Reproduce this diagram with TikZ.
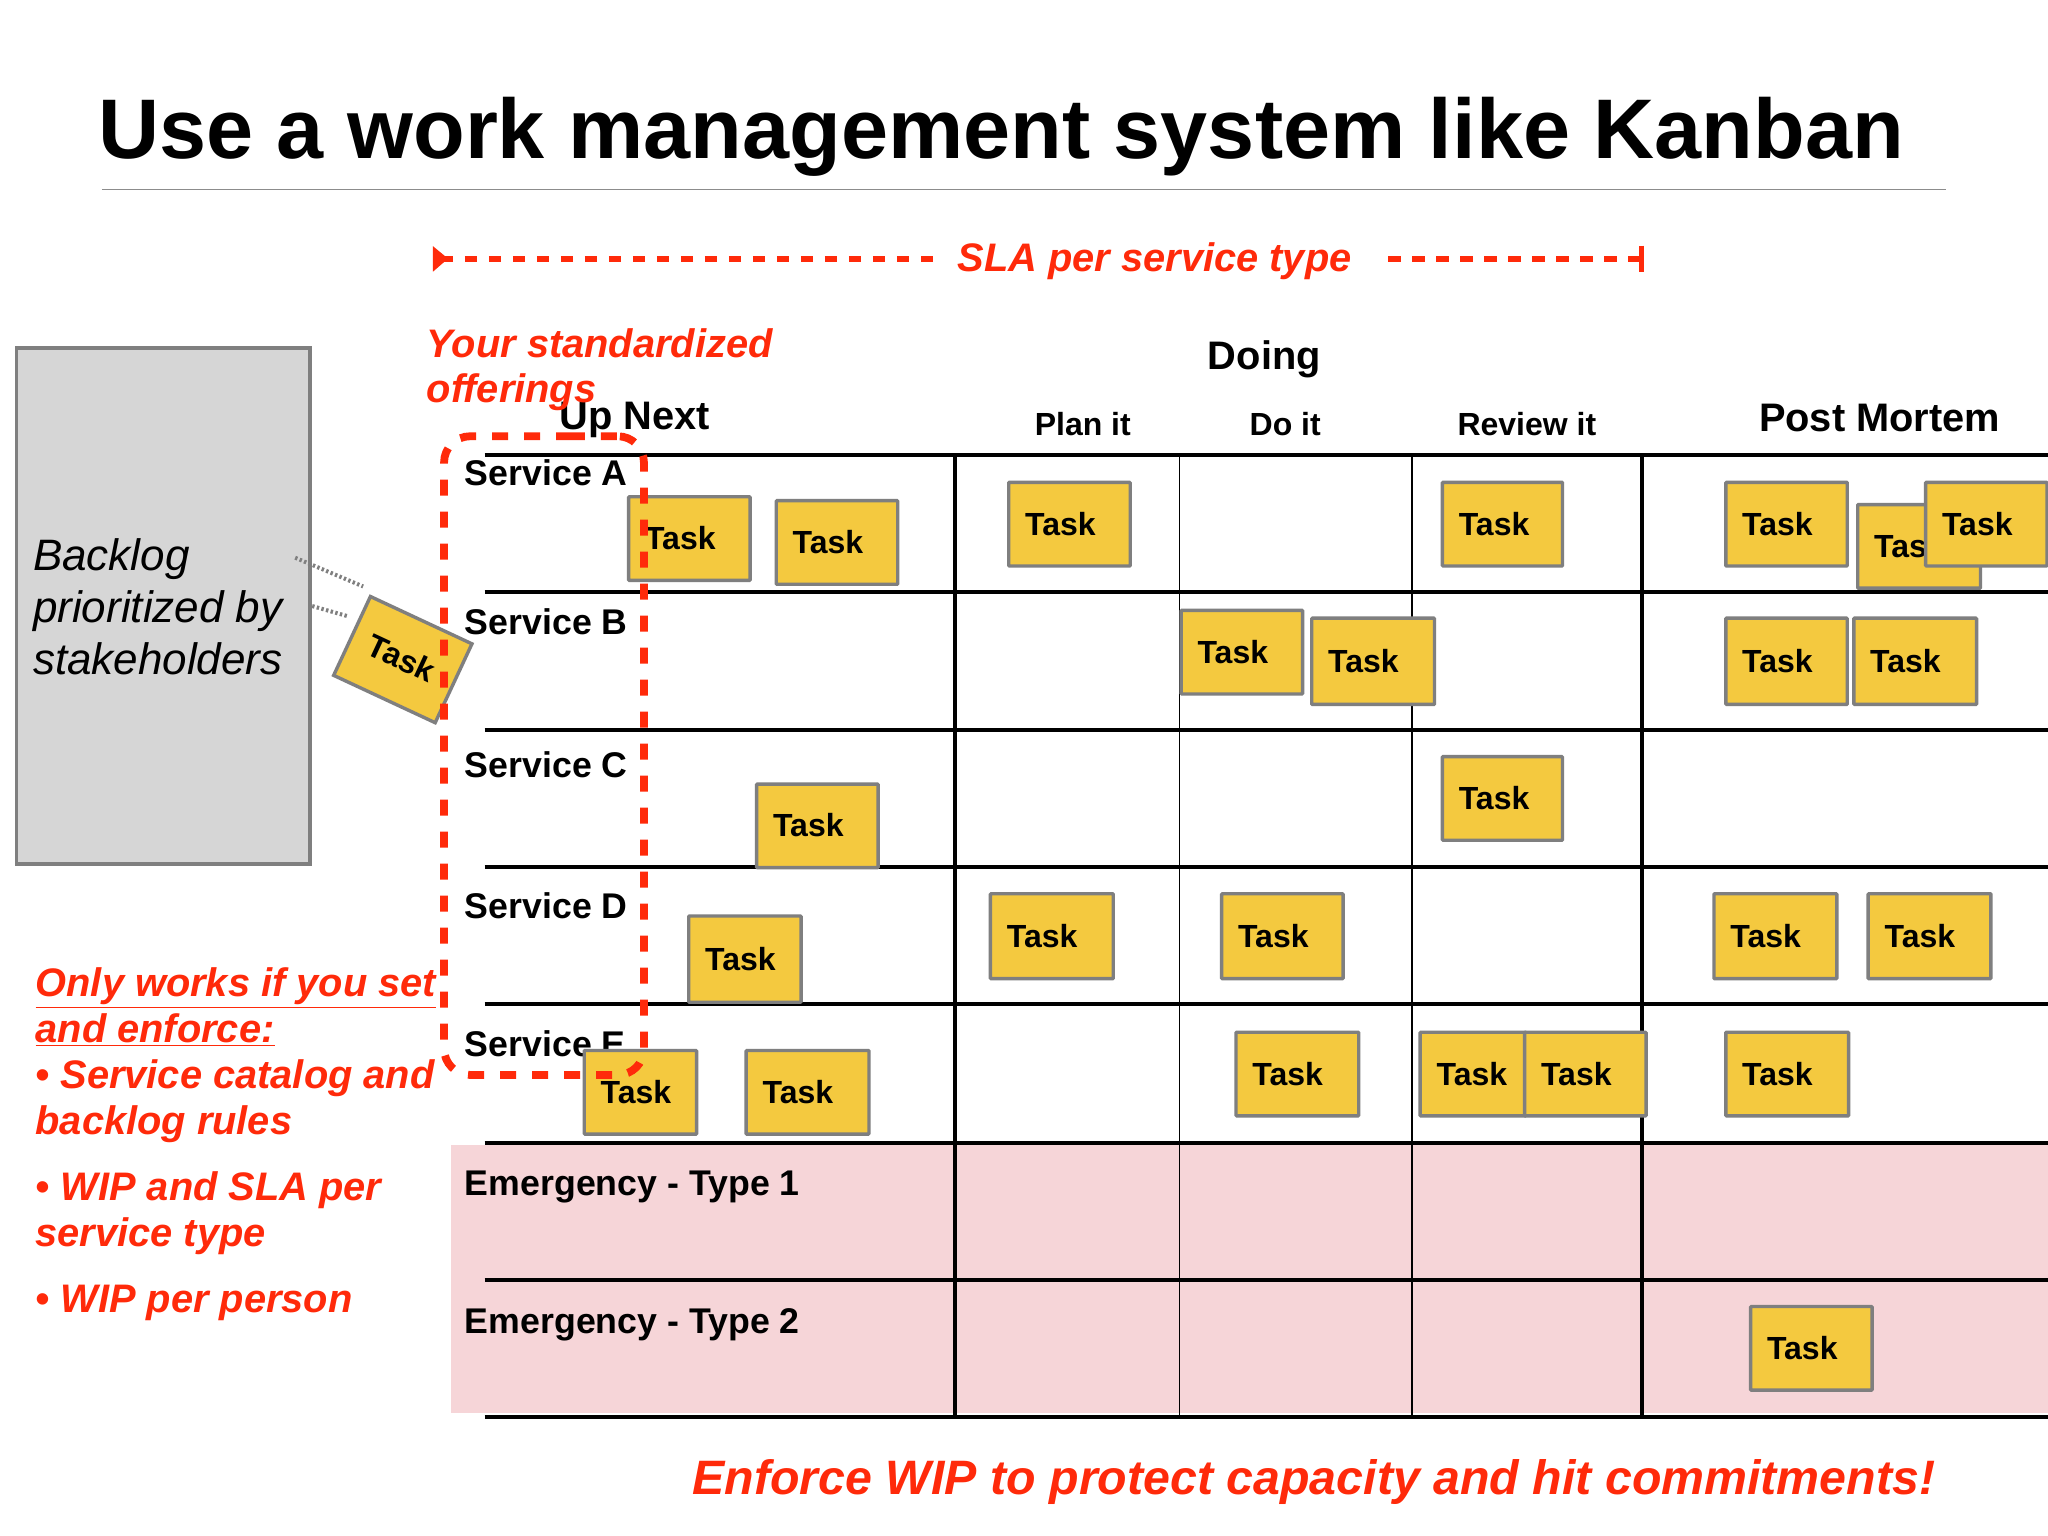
\documentclass[tikz,border=0pt]{standalone}
\usepackage{fontspec}
\setmainfont{Liberation Sans}
\usetikzlibrary{arrows.meta}
\definecolor{redc}{HTML}{FF2A0A}
\definecolor{yel}{HTML}{F4C93F}
\definecolor{bord}{HTML}{7F7F7F}
\definecolor{pinkc}{HTML}{F6D5D8}
\definecolor{boxg}{HTML}{D6D6D6}
\definecolor{rulec}{HTML}{8C8C8C}
\tikzset{
  taskbox/.style={draw=bord,fill=yel,line width=1.7pt,anchor=north west,inner xsep=8.2pt,inner ysep=0pt,align=left,font=\bfseries\fontsize{16}{18}\selectfont,rounded corners=0.4pt},
  hdr/.style={anchor=base,inner sep=0,font=\bfseries\fontsize{19.9}{22}\selectfont},
  subhdr/.style={anchor=base,inner sep=0,font=\bfseries\fontsize{16}{18}\selectfont},
  rowlab/.style={anchor=base west,inner sep=0,font=\bfseries\fontsize{17.85}{20}\selectfont},
  redtxt/.style={text=redc,inner sep=0,font=\bfseries\itshape\fontsize{19.9}{23}\selectfont},
  hline/.style={black,line width=2pt},
  thickv/.style={black,line width=2pt},
  thinv/.style={black,line width=0.6pt},
  dots/.style={bord,line width=2pt,dash pattern=on 1.2pt off 1.2pt},
  reddash/.style={redc,line width=3.9pt,dash pattern=on 8pt off 8pt},
  slaline/.style={redc,line width=2.9pt,dash pattern=on 6.2pt off 5.8pt},
}
\newcommand{\task}[5]{%
  \pgfmathsetlengthmacro{\tw}{(#4-#2)*0.653-16.4}%
  \pgfmathsetlengthmacro{\th}{(#5-#3)*0.653}%
  \node[taskbox,text width=\tw,minimum height=\th] (#1) at (#2-1,#3-1) {\raisebox{0.6pt}{Task}};}
\begin{document}
\begin{tikzpicture}[x=0.653pt,y=-0.653pt]
\useasboundingbox (0,0) rectangle (1568,1176);
\fill[white] (0,0) rectangle (1568,1176);
% title
\node[anchor=base west,inner sep=0,font=\bfseries\fontsize{42.3}{46}\selectfont] (title) at (75,121) {Use a work management system like Kanban};
\coordinate (tl) at (78,145); \coordinate (tr) at (1490,145);
\draw[rulec,line width=0.7pt] (tl) -- (tr);
% pink band
\fill[pinkc] (345,877) rectangle (1568,1082);
% grid
\foreach \n/\y in {a/348,b/453,c/559,d/664,e/769,f/875,g/980,h/1085}{
  \coordinate (l\n) at (371,\y); \coordinate (r\n) at (1568,\y);
  \draw[hline] (l\n) -- (r\n);
}
\foreach \n/\x/\s in {p/731/thickv,q/903/thinv,r/1081/thinv,s/1257/thickv}{
  \coordinate (t\n) at (\x,348); \coordinate (u\n) at (\x,1085);
  \draw[\s] (t\n) -- (u\n);
}
% headers
\node[hdr] (doing) at (968,283) {Doing};
\node[hdr] (upnext) at (486,329) {Up Next};
\node[hdr] (post) at (1439,330) {Post Mortem};
\node[subhdr] (plan) at (829,333.5) {Plan it};
\node[subhdr] (doit) at (984,333.5) {Do it};
\node[subhdr] (review) at (1169,333.5) {Review it};
% row labels
\node[rowlab] (sa) at (355.7,372) {Service A};
\node[rowlab] (sb) at (355.7,486) {Service B};
\node[rowlab] (sc) at (355.7,595) {Service C};
\node[rowlab] (sd) at (355.7,703) {Service D};
\node[rowlab] (se) at (355.7,809) {Service E};
\node[rowlab] (e1) at (355.7,915) {Emergency - Type 1};
\node[rowlab] (e2) at (355.7,1021) {Emergency - Type 2};
% tasks
\task{a1}{481}{380}{574}{444}
\task{a2}{594}{383}{687}{447}
\task{a3}{772}{369}{865}{433}
\task{a4}{1104}{369}{1196}{433}
\task{a5}{1321}{369}{1414}{433}
\task{a6}{1422}{386}{1516}{450}
\task{a7}{1474}{369}{1567}{433}
\task{b1}{904}{467}{997}{531}
\task{b2}{1004}{473}{1098}{539}
\task{b3}{1321}{473}{1414}{539}
\task{b4}{1419}{473}{1513}{539}
\task{c1}{1104}{579}{1196}{643}
\task{c2}{579}{600}{672}{664}
\task{d1}{527}{701}{613}{767}
\task{d2}{758}{684}{852}{749}
\task{d3}{935}{684}{1028}{749}
\task{d4}{1312}{684}{1406}{749}
\task{d5}{1430}{684}{1524}{749}
\task{f1}{447}{804}{533}{868}
\task{f2}{571}{804}{665}{868}
\task{f3}{946}{790}{1040}{854}
\task{f4}{1087}{790}{1168}{854}
\task{f5}{1167}{790}{1260}{854}
\task{f6}{1321}{790}{1415}{854}
\task{g1}{1340}{1000}{1433}{1064}
% backlog
\node[draw=bord,fill=boxg,line width=1.7pt,minimum width=146.6pt,minimum height=258pt,anchor=north west,inner sep=0] (backlog) at (11.5,265) {};
\node[anchor=base west,inner sep=0,align=left,font=\itshape\fontsize{22}{26}\selectfont] (backtxt) at (25,516.5) {Backlog\\prioritized by\\stakeholders};
\node[draw=bord,fill=yel,line width=1.7pt,rotate=-25,minimum width=56pt,minimum height=43.5pt,inner sep=0,font=\bfseries\fontsize{16}{18}\selectfont] (rot) at (308.4,505) {\raisebox{1pt}{Task\hspace{2pt}}};
\coordinate (d1a) at (226,427); \coordinate (d1b) at (278,449);
\coordinate (d2a) at (239,464); \coordinate (d2b) at (267,472);
\draw[dots] (d1a) -- (d1b);
\draw[dots] (d2a) -- (d2b);
% red texts
\coordinate (sl) at (337.6,198); \coordinate (sm) at (715,198); \coordinate (sn) at (1063,198); \coordinate (so) at (1257,198);
\draw[slaline] (sl) -- (sm);
\draw[slaline] (sn) -- (so);
\fill[redc] (331.5,188.5) -- (343,198) -- (331.5,208) -- cycle;
\draw[redc,line width=2.4pt] (1257,188) -- (1257,208);
\node[redtxt,anchor=base west] (sla) at (733,208) {SLA per service type};
\node[redtxt,anchor=base west,align=left] (std) at (326.5,308) {Your standardized\\[-0.5pt]offerings};
\node[redtxt,anchor=base west,align=left,text=redc] (notes) at (27,1005) {\underline{Only works if you set}\\\underline{and enforce:}\\• Service catalog and\\backlog rules\\[10pt]• WIP and SLA per\\service type\\[10pt]• WIP per person};
\node[anchor=base west,inner sep=0,text=redc,font=\bfseries\itshape\fontsize{24.15}{30}\selectfont] (enf) at (530,1144) {Enforce WIP to protect capacity and hit commitments!};
% red dashed offerings
\draw[reddash,rounded corners=13.06pt] (458,334) -- (340,334) -- (340,823) -- (493,823) -- (493,334) -- cycle;
\end{tikzpicture}
\end{document}
